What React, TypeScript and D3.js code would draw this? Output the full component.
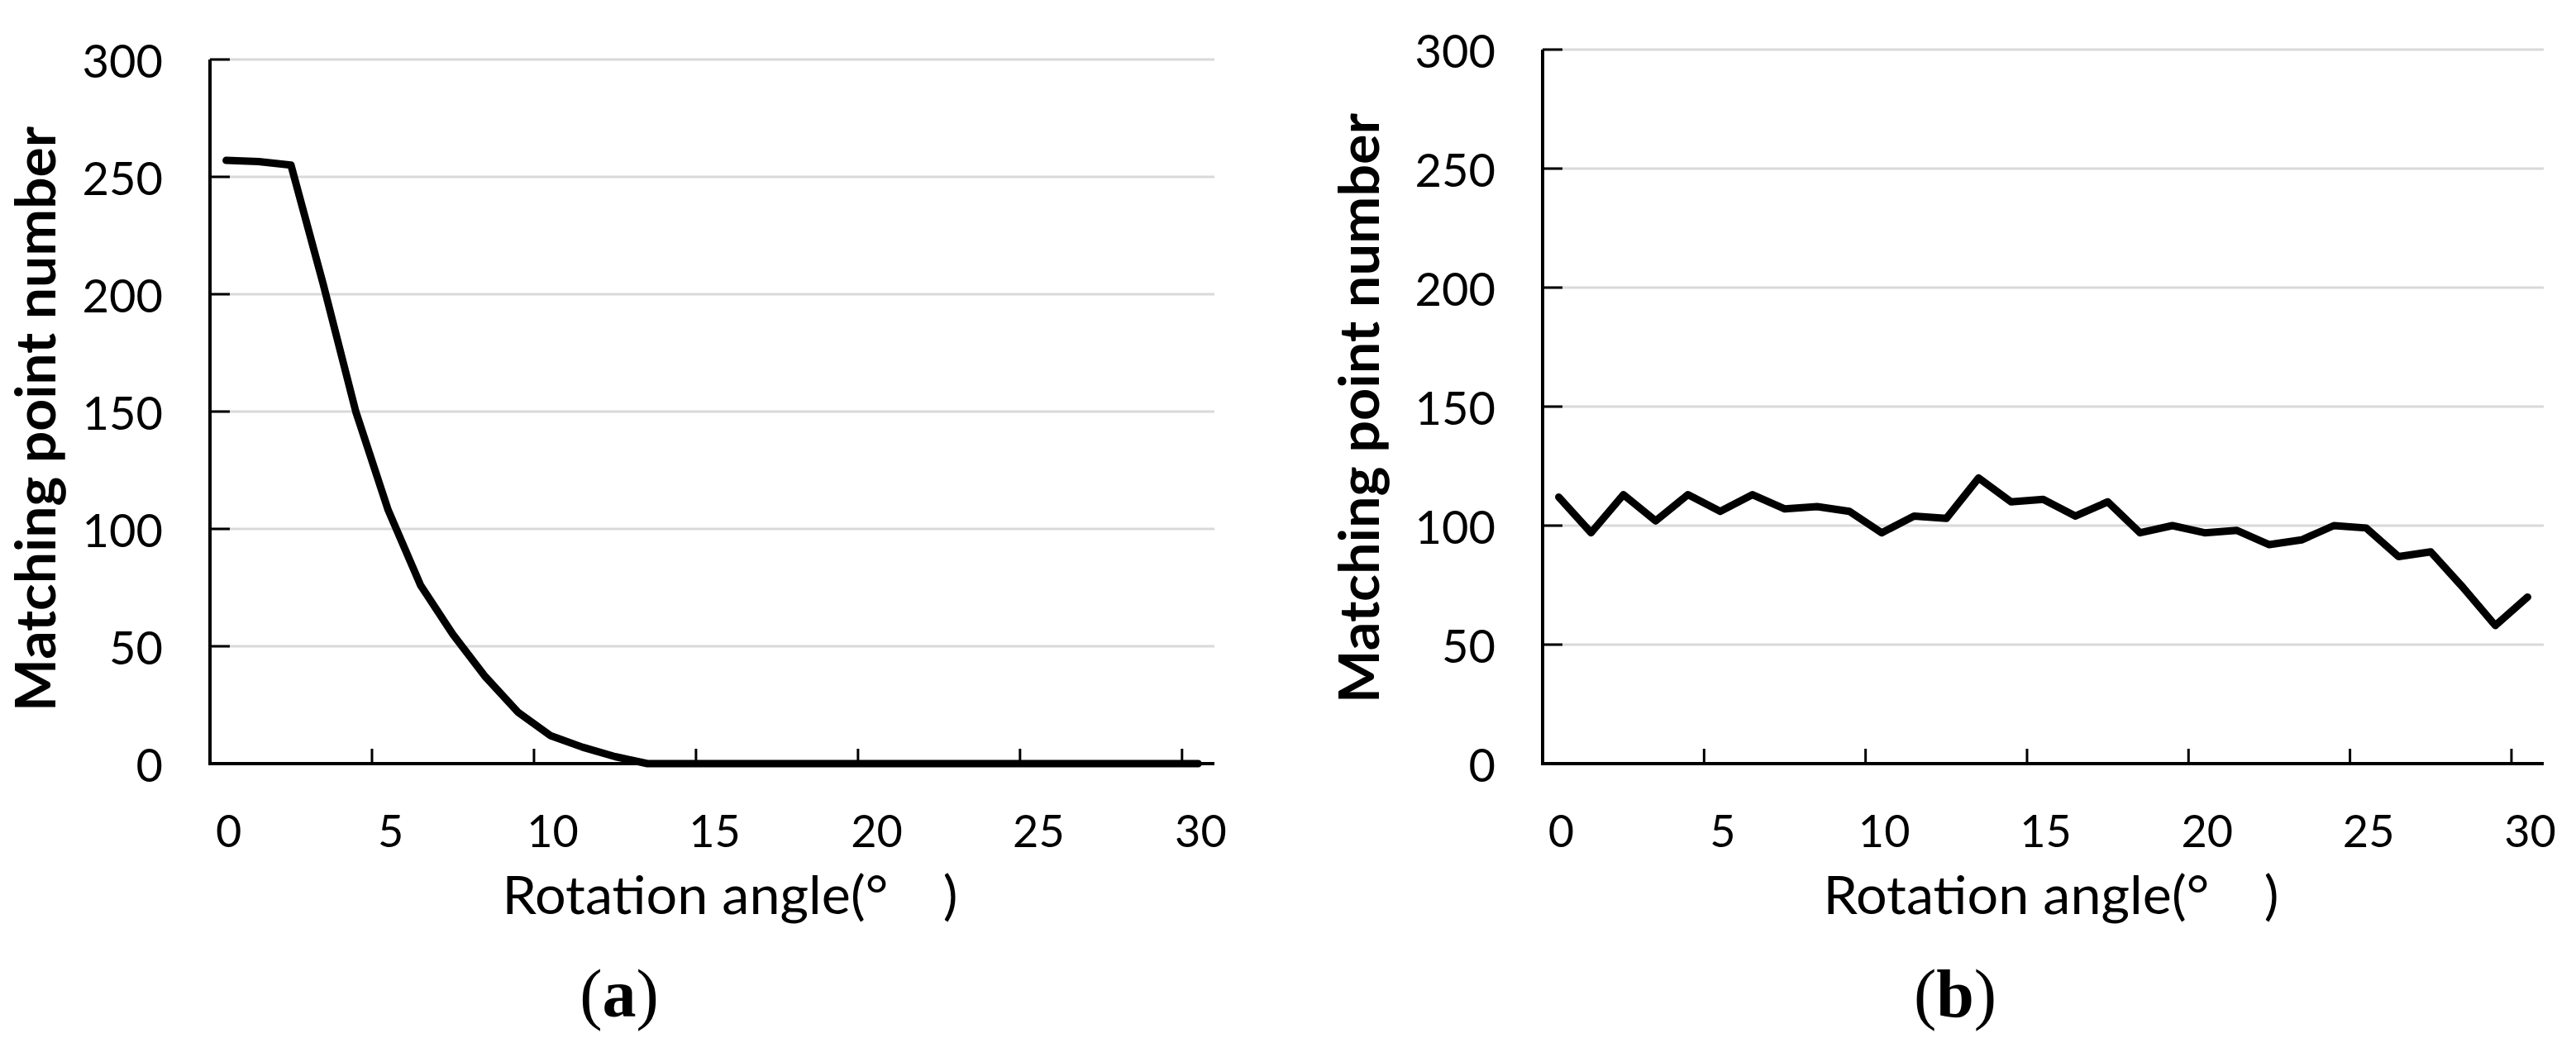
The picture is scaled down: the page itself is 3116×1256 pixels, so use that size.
import React from "react";
import * as d3 from "d3";

const angles = [0,1,2,3,4,5,6,7,8,9,10,11,12,13,14,15,16,17,18,19,20,21,22,23,24,25,26,27,28,29,30];
const seriesA = [257,256.5,255,204,150,108,76,55,37,22,12,7,3,0,0,0,0,0,0,0,0,0,0,0,0,0,0,0,0,0,0];
const seriesB = [112,97,113,102,113,106,113,107,108,106,97,104,103,120,110,111,104,110,97,100,97,98,92,94,100,99,87,89,74,58,70];
const yTicks = [0,50,100,150,200,250,300];
const xTickLabels = [0,5,10,15,20,25,30];
const yTitle = "Matching point number";
const xTitle = "Rotation angle(°\u2002\u2002)";
const captions = ["a","b"];

type PanelCfg = {
  x0: number; x1: number; yTop: number; yBottom: number;
  data: number[]; caption: string;
  yTitleX: number; yTitleY: number; yTitleLen: number;
  xTitleX: number; captionX: number;
};

const FONT = "Lato, 'Open Sans', sans-serif";

function Panel({ cfg }: { cfg: PanelCfg }) {
  const x = d3.scaleBand<number>().domain(angles).range([cfg.x0, cfg.x1]).padding(0);
  const y = d3.scaleLinear().domain([0, 300]).range([cfg.yBottom, cfg.yTop]);
  const bw = x.bandwidth();
  const cx = (a: number) => (x(a) as number) + bw / 2;
  const line = d3.line<number>().x((_, i) => cx(angles[i])).y((v) => y(v));
  return (
    <g>
      {yTicks.filter((t) => t > 0).map((t) => (
        <line key={"g" + t} x1={cfg.x0} x2={cfg.x1} y1={y(t)} y2={y(t)} stroke="#d9d9d9" strokeWidth={3} />
      ))}
      {yTicks.map((t) => (
        <line key={"yt" + t} x1={cfg.x0} x2={cfg.x0 + 24} y1={y(t)} y2={y(t)} stroke="#000" strokeWidth={3} />
      ))}
      {xTickLabels.map((t) => (
        <line key={"xt" + t} x1={x(t) as number} x2={x(t) as number} y1={cfg.yBottom} y2={cfg.yBottom - 18} stroke="#000" strokeWidth={3} />
      ))}
      <line x1={cfg.x0} x2={cfg.x0} y1={cfg.yTop} y2={cfg.yBottom + 2} stroke="#000" strokeWidth={4} />
      <line x1={cfg.x0 - 2} x2={cfg.x1} y1={cfg.yBottom} y2={cfg.yBottom} stroke="#000" strokeWidth={4} />
      <path d={line(cfg.data) || ""} fill="none" stroke="#000" strokeWidth={9} strokeLinejoin="round" strokeLinecap="round" />
      {yTicks.map((t) => (
        <text key={"yl" + t} x={cfg.x0 - 57} y={y(t)} textAnchor="end" dominantBaseline="central"
          fontFamily={FONT} fontSize={56} fill="#000">{t}</text>
      ))}
      {xTickLabels.map((t) => (
        <text key={"xl" + t} x={cx(t) + 3} y={1025} textAnchor="middle"
          fontFamily={FONT} fontSize={54} fill="#000">{t}</text>
      ))}
      <text x={cfg.xTitleX} y={1106} textAnchor="middle" fontFamily={FONT} fontSize={64} fill="#000"
        textLength={551} lengthAdjust="spacingAndGlyphs" style={{ whiteSpace: "pre" }}>{xTitle}</text>
      <text transform={`translate(${cfg.yTitleX},${cfg.yTitleY}) rotate(-90)`} textAnchor="middle"
        fontFamily={FONT} fontSize={67} fontWeight={700} fill="#000"
        textLength={cfg.yTitleLen} lengthAdjust="spacingAndGlyphs">{yTitle}</text>
      <text x={cfg.captionX} y={1230} textAnchor="middle" fontFamily="'Liberation Serif', 'Times New Roman', serif" fontSize={82} fill="#000">
        (<tspan fontWeight={700}>{cfg.caption}</tspan>)
      </text>
    </g>
  );
}

export default function App() {
  const left: PanelCfg = {
    x0: 254, x1: 1469, yTop: 72, yBottom: 924, data: seriesA, caption: captions[0],
    yTitleX: 67, yTitleY: 507, yTitleLen: 708, xTitleX: 883, captionX: 749,
  };
  const right: PanelCfg = {
    x0: 1866, x1: 3077, yTop: 60, yBottom: 924, data: seriesB, caption: captions[1],
    yTitleX: 1668, yTitleY: 494, yTitleLen: 714, xTitleX: 2481, captionX: 2365,
  };
  return (
    <svg width={3116} height={1256} style={{ position: "absolute", left: 0, top: 0, background: "#fff" }}>
      <rect x={0} y={0} width={3116} height={1256} fill="#fff" />
      <Panel cfg={left} />
      <Panel cfg={right} />
    </svg>
  );
}
